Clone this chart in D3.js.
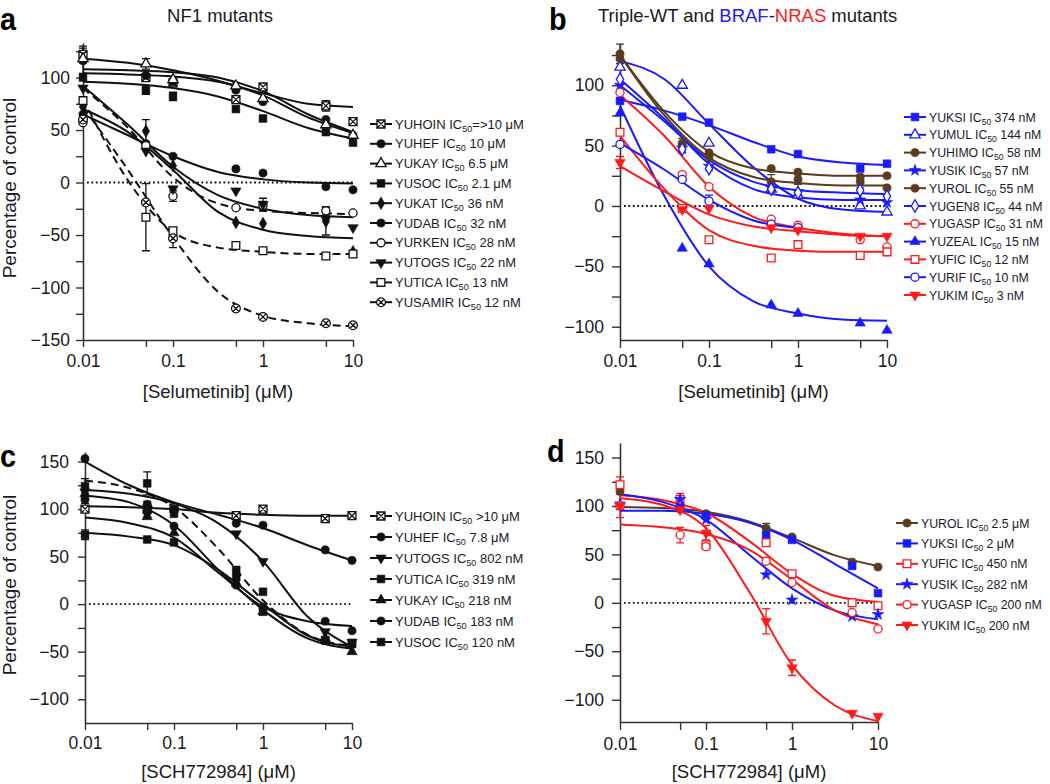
<!DOCTYPE html>
<html><head><meta charset="utf-8">
<script src="https://cdn.jsdelivr.net/npm/d3@7"></script>
<style>
body{margin:0;background:#fff}
svg{display:block;font-family:"Liberation Sans",Arial,Helvetica,sans-serif}
</style>
</head><body>
<svg id="chart" width="1050" height="784"></svg>
<script>
// ---------- shared axis values ----------
const doses = [0.01, 0.05, 0.1, 0.5, 1, 5, 10];
const fitDoses = [0.01, 0.0316, 0.1, 0.316, 1, 3.16, 10];
const xMajor = [0.01, 0.1, 1, 10];
const xMajorLabels = ["0.01", "0.1", "1", "10"];
const xMinor = [0.05, 0.5, 5];

// ---------- panel a: NF1 mutants, selumetinib ----------
const aNames = ["YUHOIN","YUHEF","YUKAY","YUSOC","YUKAT","YUDAB","YURKEN","YUTOGS","YUTICA","YUSAMIR"];
const aIC50 = ["=>10 μM"," 10 μM"," 6.5 μM"," 2.1 μM"," 36 nM"," 32 nM"," 28 nM"," 22 nM"," 13 nM"," 12 nM"];
const aPoints = [
  [122, 100, 95, 79, 91, 73, 58],
  [116, 102, 96, 88, 77, 60, 45],
  [118, 113, 98, 92, 80, 55, 45],
  [100, 88, 82, 70, 61, 48, 38],
  [72, 49, 16, -38, -39, -37, -66],
  [65, 37, 25, 13, 9, -4, -7],
  [57, 35, -13, -24, -22, -27, -29],
  [90, 30, -6, -8, -21, -35, -43],
  [78, -33, -46, -60, -65, -70, -68],
  [60, -19, -53, -120, -128, -134, -136]
];
const aErr = [
  [8,0,0,0,0,5,0],[12,0,0,0,0,0,0],[0,5,0,3,0,0,0],[0,4,4,0,0,0,0],
  [0,11,0,0,0,13,0],[0,0,0,0,0,0,0],[0,0,5,0,4,4,0],[0,0,0,0,6,0,0],
  [3,32,0,0,0,0,0],[0,0,9,0,0,0,0]
];
const aFits = [
  [104, 103, 101, 96, 85, 75, 72],
  [118, 114, 107, 97, 83, 62, 47],
  [108, 107, 105, 100, 87, 65, 48],
  [96, 94, 90, 82, 68, 52, 42],
  [70, 48, 12, -28, -45, -51, -53],
  [65, 45, 25, 10, 3, 0, -1],
  [90, 52, 5, -20, -27, -29, -30],
  [92, 55, 15, -12, -25, -31, -33],
  [80, 2, -47, -62, -66, -68, -68],
  [72, 12, -52, -104, -127, -134, -137]
];
const aSymbols = ["sqX","circle","triOpen","square","diamond","circle","circleOpen","triDown","squareOpen","circleX"];
const aColors = ["k","k","k","k","k","k","k","k","k","k"];
const aDashed = [0,0,0,0,0,0,1,0,1,1];

// ---------- panel b: triple-WT and BRAF/NRAS, selumetinib ----------
const bNames = ["YUKSI","YUMUL","YUHIMO","YUSIK","YUROL","YUGEN8","YUGASP","YUZEAL","YUFIC","YURIF","YUKIM"];
const bIC50 = [" 374 nM"," 144 nM"," 58 nM"," 57 nM"," 55 nM"," 44 nM"," 31 nM"," 15 nM"," 12 nM"," 10 nM"," 3 nM"];
const bPoints = [
  [87, 74, 69, 47, 43, 31, 35],
  [115, 100, 52, 14, 9, 0, -5],
  [126, 52, 44, 31, 28, 24, 25],
  [100, 48, 33, 15, 12, 5, 3],
  [122, 50, 41, 20, 22, 20, 15],
  [105, 47, 31, 14, 11, 13, 8],
  [94, 26, 16, -11, -16, -28, -34],
  [77, -35, -48, -82, -89, -97, -103],
  [61, -2, -28, -43, -32, -41, -38],
  [51, 22, 4, -15, -18, null, null],
  [36, -3, -2, -18, -20, -25, -25]
];
const bErr = [
  [0,0,0,0,0,0,0],[0,0,0,0,0,0,0],[8,0,0,0,0,0,0],[0,0,0,0,0,0,0],
  [0,6,4,6,4,5,0],[0,0,0,0,0,0,0],[0,0,0,0,0,0,0],[0,0,0,0,0,0,0],
  [0,0,0,0,0,0,0],[0,0,5,0,0,0,0],[5,0,0,0,0,0,0]
];
const bFits = [
  [88, 79, 67, 53, 41, 36, 34],
  [120, 105, 68, 32, 6, -3, -5],
  [125, 78, 45, 31, 27, 25, 25],
  [100, 70, 38, 20, 13, 11, 10],
  [125, 75, 40, 24, 19, 17, 17],
  [105, 72, 35, 14, 7, 5, 5],
  [92, 58, 16, -9, -18, -23, -25],
  [83, 8, -50, -79, -89, -94, -95],
  [58, 14, -20, -33, -37, -38, -38],
  [52, 30, 5, -12, -18, null, null],
  [33, 12, -7, -17, -21, -24, -25]
];
const bSymbols = ["square","triOpen","circle","star","circle","diamondOpen","circleOpen","triUp","squareOpen","circleOpen","triDown"];
const bColors = ["blue","blue","brown","blue","brown","blue","red","blue","red","blue","red"];
const bDashed = [0,0,0,0,0,0,0,0,0,0,0];

// ---------- panel c: NF1 mutants, SCH772984 ----------
const cNames = ["YUHOIN","YUHEF","YUTOGS","YUTICA","YUKAY","YUDAB","YUSOC"];
const cIC50 = [" >10 μM"," 7.8 μM"," 802 nM"," 319 nM"," 218 nM"," 183 nM"," 120 nM"];
const cPoints = [
  [100, 100, 101, 93, 100, 90, 93],
  [153, 105, 100, 85, 83, 57, 46],
  [118, 100, 98, 74, 45, -29, -40],
  [124, 127, 95, 36, 13, -38, -41],
  [116, 92, 75, 22, -8, -36, -50],
  [110, 97, 82, 20, -3, -18, -28],
  [73, 68, 65, 28, -8, -38, -42]
];
const cErr = [
  [0,0,0,0,0,0,0],[0,0,0,0,0,0,0],[0,8,0,0,0,0,0],[8,12,0,0,0,0,0],
  [10,0,0,0,0,0,0],[0,0,0,0,0,0,0],[5,0,0,0,0,0,0]
];
const cFits = [
  [103, 102, 100, 96, 94, 93, 93],
  [150, 125, 107, 94, 80, 62, 46],
  [120, 116, 106, 85, 45, -13, -45],
  [130, 122, 102, 58, 4, -32, -44],
  [114, 107, 83, 36, -6, -36, -47],
  [91, 85, 70, 33, -3, -18, -23],
  [75, 71, 62, 36, 0, -33, -45]
];
const cSymbols = ["sqX","circle","triDown","square","triUp","circle","square"];
const cColors = ["k","k","k","k","k","k","k"];
const cDashed = [0,0,0,1,0,0,0];

// ---------- panel d: triple-WT and BRAF/NRAS, SCH772984 ----------
const dNames = ["YUROL","YUKSI","YUFIC","YUSIK","YUGASP","YUKIM"];
const dIC50 = [" 2.5 μM"," 2 μM"," 450 nM"," 282 nM"," 200 nM"," 200 nM"];
const dPoints = [
  [115, 97, 92, 77, 68, 42, 37],
  [100, 100, 90, 70, 65, 38, 10],
  [122, 107, 60, 62, 30, 0, -3],
  [102, 107, 86, 29, 3, -14, -12],
  [100, 70, 58, 43, 21, -10, -27],
  [100, 96, 72, -19, -67, -114, -117]
];
const dErr = [
  [0,0,0,5,0,0,0],[0,0,0,0,0,0,0],[8,6,5,0,0,0,0],[0,0,0,0,0,0,0],
  [0,8,0,0,0,0,0],[12,0,8,13,8,0,0]
];
const dFits = [
  [99, 98, 94, 84, 67, 49, 38],
  [95, 95, 92, 83, 65, 40, 15],
  [111, 106, 93, 64, 30, 7, 1],
  [112, 104, 86, 50, 15, -8, -17],
  [81, 78, 71, 55, 24, -8, -22],
  [108, 101, 77, 12, -64, -106, -122]
];
const dSymbols = ["circle","square","squareOpen","star","circleOpen","triDown"];
const dColors = ["brown","blue","red","blue","red","red"];
const dDashed = [0,0,0,0,0,0];

// ---------- styles ----------
const PALETTE = {k:"#111111", blue:"#1a1aff", red:"#ff1a1a", brown:"#5a3b1f"};
const AXIS = "#333";
const svg = d3.select("#chart");

function symbolPath(type) {
  switch (type) {
    case "circle": case "circleOpen": return d3.symbol(d3.symbolCircle, 52)();
    case "square": case "squareOpen": return d3.symbol(d3.symbolSquare, 60)();
    case "triUp": case "triOpen": case "triDown": return d3.symbol(d3.symbolTriangle, 46)();
    case "diamond": case "diamondOpen": return d3.symbol(d3.symbolDiamond, 46)();
    case "star": return d3.symbol(d3.symbolStar, 42)();
    case "sqX": return "M-4,-4H4V4H-4Z M-4,-4L4,4 M4,-4L-4,4";
    case "circleX": return d3.symbol(d3.symbolCircle, 60)() + " M-3,-3L3,3 M3,-3L-3,3";
  }
}
const OPEN = new Set(["circleOpen","squareOpen","triOpen","diamondOpen","sqX","circleX"]);
function marker(g, type, color, cx, cy) {
  const p = g.append("path").attr("d", symbolPath(type))
    .attr("transform", `translate(${cx},${cy})` + (type === "triDown" ? " rotate(180)" : ""));
  if (OPEN.has(type)) p.attr("fill", "#fff").attr("stroke", color).attr("stroke-width", 1.3);
  else p.attr("fill", color).attr("stroke", color).attr("stroke-width", 0.6);
}

function drawPanel(L, D) {
  const g = svg.append("g");
  const x = d3.scaleLog().domain([0.01, 10]).range([L.x0, L.x1]);
  const y = d3.scaleLinear().domain(L.yDom).range([L.yBottom, L.yTop]);
  const fmt = d => d < 0 ? "\u2212" + Math.abs(d) : String(d);

  // y axis
  g.append("g").attr("transform", `translate(${L.x0},0)`)
    .call(d3.axisLeft(y).tickValues(L.yTicks).tickFormat(fmt).tickSize(L.tick).tickSizeOuter(0).tickPadding(L.pad));
  g.append("g").attr("transform", `translate(${L.x0},0)`)
    .call(d3.axisLeft(y).tickValues(L.yMinor).tickFormat("").tickSize(L.tick).tickSizeOuter(0))
    .call(s => s.select(".domain").remove());
  // x axis
  g.append("g").attr("transform", `translate(0,${L.yBottom})`)
    .call(d3.axisBottom(x).tickValues(xMajor).tickFormat((d, i) => xMajorLabels[i]).tickSize(L.tick).tickSizeOuter(0).tickPadding(L.padX));
  g.append("g").attr("transform", `translate(0,${L.yBottom})`)
    .call(d3.axisBottom(x).tickValues(xMinor).tickFormat("").tickSize(L.tick).tickSizeOuter(0))
    .call(s => s.select(".domain").remove());
  g.selectAll(".domain").attr("stroke", AXIS).attr("stroke-width", 1.6);
  g.selectAll(".tick line").attr("stroke", AXIS).attr("stroke-width", 1.4);
  g.selectAll(".tick text").attr("font-size", 17.5).attr("fill", "#1a1a1a")
    .attr("font-family", '"Liberation Sans",Arial,sans-serif');

  // zero line
  g.append("line").attr("x1", x(0.01) + 4).attr("x2", x(10)).attr("y1", y(0)).attr("y2", y(0))
    .attr("stroke", "#111").attr("stroke-width", 1.8).attr("stroke-dasharray", "1.8,2.6");

  const line = d3.line().defined(d => d[1] != null).x(d => x(d[0])).y(d => y(d[1])).curve(d3.curveMonotoneX);

  // fitted curves
  D.fits.forEach((f, k) => {
    g.append("path").attr("d", line(fitDoses.map((dd, i) => [dd, f[i]])))
      .attr("fill", "none").attr("stroke", PALETTE[D.colors[k]]).attr("stroke-width", 2)
      .attr("stroke-dasharray", D.dashed[k] ? "8,5" : null);
  });
  // error bars
  D.points.forEach((pts, k) => {
    const col = PALETTE[D.colors[k]];
    pts.forEach((v, i) => {
      if (v == null) return;
      const e = D.err[k][i];
      if (e > 0) {
        const cx = x(doses[i]);
        g.append("path").attr("d", `M${cx},${y(v - e)}V${y(v + e)}M${cx - 4},${y(v - e)}H${cx + 4}M${cx - 4},${y(v + e)}H${cx + 4}`)
          .attr("stroke", col).attr("stroke-width", 1.3).attr("fill", "none");
      }
    });
  });
  // markers
  D.points.forEach((pts, k) => {
    const col = PALETTE[D.colors[k]];
    pts.forEach((v, i) => { if (v != null) marker(g, D.symbols[k], col, x(doses[i]), y(v)); });
  });

  // legend
  D.names.forEach((nm, k) => {
    const cy = L.legY + k * L.legDy;
    const col = PALETTE[D.colors[k]];
    g.append("line").attr("x1", L.legX - 11).attr("x2", L.legX + 11).attr("y1", cy).attr("y2", cy)
      .attr("stroke", col).attr("stroke-width", 2);
    marker(g, D.symbols[k], col, L.legX, cy);
    const t = g.append("text").attr("x", L.legX + 14).attr("y", cy + 4.5).attr("font-size", L.legFont).attr("fill", "#1a1a2a");
    t.append("tspan").text(nm + " IC");
    t.append("tspan").attr("font-size", L.legFont * 0.7).attr("dy", 3).text("50");
    t.append("tspan").attr("dy", -3).text(D.ic[k]);
  });

  // axis titles and panel letter
  svg.append("text").attr("x", (L.x0 + L.x1) / 2).attr("y", L.xTitleY).attr("text-anchor", "middle")
    .attr("font-size", 18.5).attr("fill", "#1a1a1a").text(L.xTitle);
  if (L.yTitle) {
    svg.append("text").attr("transform", `translate(16,${L.yTitleY}) rotate(-90)`).attr("text-anchor", "middle")
      .attr("font-size", 19).attr("fill", "#1a1a1a").text(L.yTitle);
  }
  svg.append("text").attr("transform", `translate(${L.letterX},${L.letterY}) scale(0.9,1)`)
    .attr("font-size", 32).attr("font-weight", "bold").attr("fill", "#000").text(L.letter);
}

drawPanel(
  {x0:83, x1:353, yTop:43, yBottom:340, yDom:[-150, 132.9], yTicks:[-150,-100,-50,0,50,100], yMinor:[-125,-75,-25,25,75,125],
   tick:7, pad:6, padX:8, legX:381, legY:124, legDy:19.8, legFont:13, xTitle:"[Selumetinib] (μM)", xTitleY:398,
   yTitle:"Percentage of control", yTitleY:188, letter:"a", letterX:0, letterY:30},
  {names:aNames, ic:aIC50, points:aPoints, err:aErr, fits:aFits, symbols:aSymbols, colors:aColors, dashed:aDashed});

drawPanel(
  {x0:620, x1:887, yTop:43, yBottom:340, yDom:[-111, 135], yTicks:[-100,-50,0,50,100], yMinor:[-75,-25,25,75,125],
   tick:8, pad:8, padX:7, legX:915, legY:117, legDy:17.8, legFont:12.3, xTitle:"[Selumetinib] (μM)", xTitleY:398,
   yTitle:null, letter:"b", letterX:549, letterY:30},
  {names:bNames, ic:bIC50, points:bPoints, err:bErr, fits:bFits, symbols:bSymbols, colors:bColors, dashed:bDashed});

drawPanel(
  {x0:85, x1:352, yTop:452, yBottom:723, yDom:[-125, 160], yTicks:[-100,-50,0,50,100,150], yMinor:[-75,-25,25,75,125],
   tick:7, pad:9, padX:7, legX:381, legY:516, legDy:21, legFont:13, xTitle:"[SCH772984] (μM)", xTitleY:778,
   yTitle:"Percentage of control", yTitleY:585, letter:"c", letterX:0, letterY:467},
  {names:cNames, ic:cIC50, points:cPoints, err:cErr, fits:cFits, symbols:cSymbols, colors:cColors, dashed:cDashed});

drawPanel(
  {x0:620, x1:878, yTop:443, yBottom:722, yDom:[-123, 165], yTicks:[-100,-50,0,50,100,150], yMinor:[-75,-25,25,75,125],
   tick:8, pad:8, padX:8, legX:907, legY:523, legDy:20.4, legFont:12.3, xTitle:"[SCH772984] (μM)", xTitleY:778,
   yTitle:null, letter:"d", letterX:547, letterY:462},
  {names:dNames, ic:dIC50, points:dPoints, err:dErr, fits:dFits, symbols:dSymbols, colors:dColors, dashed:dDashed});

// panel titles
svg.append("text").attr("x", 220).attr("y", 22).attr("text-anchor", "middle").attr("font-size", 18.5)
  .attr("fill", "#1a1a1a").text("NF1 mutants");
const tb = svg.append("text").attr("x", 598).attr("y", 22).attr("font-size", 18.5).attr("fill", "#1a1a1a");
tb.append("tspan").text("Triple-WT and ");
tb.append("tspan").attr("fill", PALETTE.blue).text("BRAF");
tb.append("tspan").text("-");
tb.append("tspan").attr("fill", PALETTE.red).text("NRAS");
tb.append("tspan").text(" mutants");
</script>
</body></html>
